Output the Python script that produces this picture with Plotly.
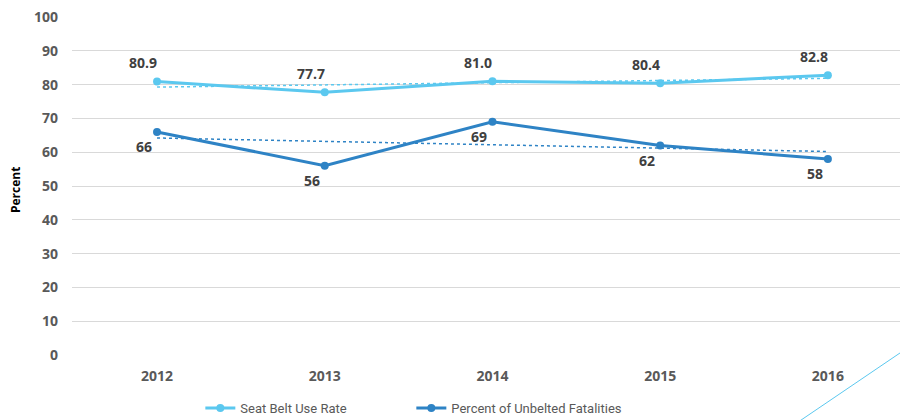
import numpy as np
import plotly.graph_objects as go

years = ["2012", "2013", "2014", "2015", "2016"]
seat_belt = [80.9, 77.7, 81.0, 80.4, 82.8]
unbelted = [66, 56, 69, 62, 58]
y_ticks = [0, 10, 20, 30, 40, 50, 60, 70, 80, 90, 100]

LIGHT = "#5BC8EF"
DARK = "#2E83C5"
xi = np.arange(len(years))

def trend(vals):
    m, b = np.polyfit(xi, vals, 1)
    return list(m * xi + b)

fig = go.Figure()
fig.add_trace(go.Scatter(x=xi, y=trend(seat_belt), mode="lines",
                         line=dict(color=LIGHT, width=1.5, dash="dot"),
                         showlegend=False, hoverinfo="skip"))
fig.add_trace(go.Scatter(x=xi, y=trend(unbelted), mode="lines",
                         line=dict(color=DARK, width=1.5, dash="dot"),
                         showlegend=False, hoverinfo="skip"))
fig.add_trace(go.Scatter(x=xi, y=seat_belt, mode="lines+markers",
                         name="Seat Belt Use Rate",
                         line=dict(color=LIGHT, width=3),
                         marker=dict(color=LIGHT, size=8)))
fig.add_trace(go.Scatter(x=xi, y=unbelted, mode="lines+markers",
                         name="Percent of Unbelted Fatalities",
                         line=dict(color=DARK, width=3),
                         marker=dict(color=DARK, size=8)))

lab_font = dict(family="Open Sans", size=14, color="#404040", weight="bold")
for i, v in enumerate(seat_belt):
    fig.add_annotation(x=int(xi[i]), y=v, text=f"{v:.1f}", showarrow=False,
                       xshift=-14, yshift=19, font=lab_font)
for i, v in enumerate(unbelted):
    fig.add_annotation(x=int(xi[i]), y=v, text=f"{v:d}", showarrow=False,
                       xshift=-13, yshift=-15, font=lab_font)

# y-axis title
fig.add_annotation(xref="paper", yref="paper", x=-0.0688, y=0.488,
                   text="Percent", textangle=-90, showarrow=False,
                   xanchor="center", yanchor="middle",
                   font=dict(family="Open Sans", size=12, color="black",
                             weight="bold"))

fig.add_shape(type="line", xref="paper", yref="paper",
              x0=0.879, y0=-0.195, x1=1.0, y1=0.006,
              line=dict(color=LIGHT, width=1))

tick_font = dict(family="Open Sans", size=14, color="#595959", weight="bold")
fig.update_layout(
    width=900, height=420,
    margin=dict(l=72, r=0, t=17, b=65, autoexpand=False),
    paper_bgcolor="white", plot_bgcolor="white",
    xaxis=dict(range=[-0.507, 4.43], tickvals=list(xi), ticktext=years,
               showgrid=False, showline=False, zeroline=False,
               tickfont=tick_font, ticks="", ticklabelstandoff=11,
               automargin=False),
    yaxis=dict(range=[0, 100], tickvals=y_ticks, showgrid=True,
               gridcolor="#D9D9D9", gridwidth=1, zeroline=False,
               showline=False, tickfont=tick_font, ticks="",
               ticklabelstandoff=13, automargin=False),
    legend=dict(orientation="h", x=0.155, y=-0.157, xanchor="left",
                yanchor="middle", itemwidth=30,
                entrywidth=166, entrywidthmode="pixels",
                font=dict(family="Roboto", size=13, color="#595959")),
)

fig.write_html("out.html", config={"displayModeBar": False},
               post_script="document.body.style.margin='0';")
